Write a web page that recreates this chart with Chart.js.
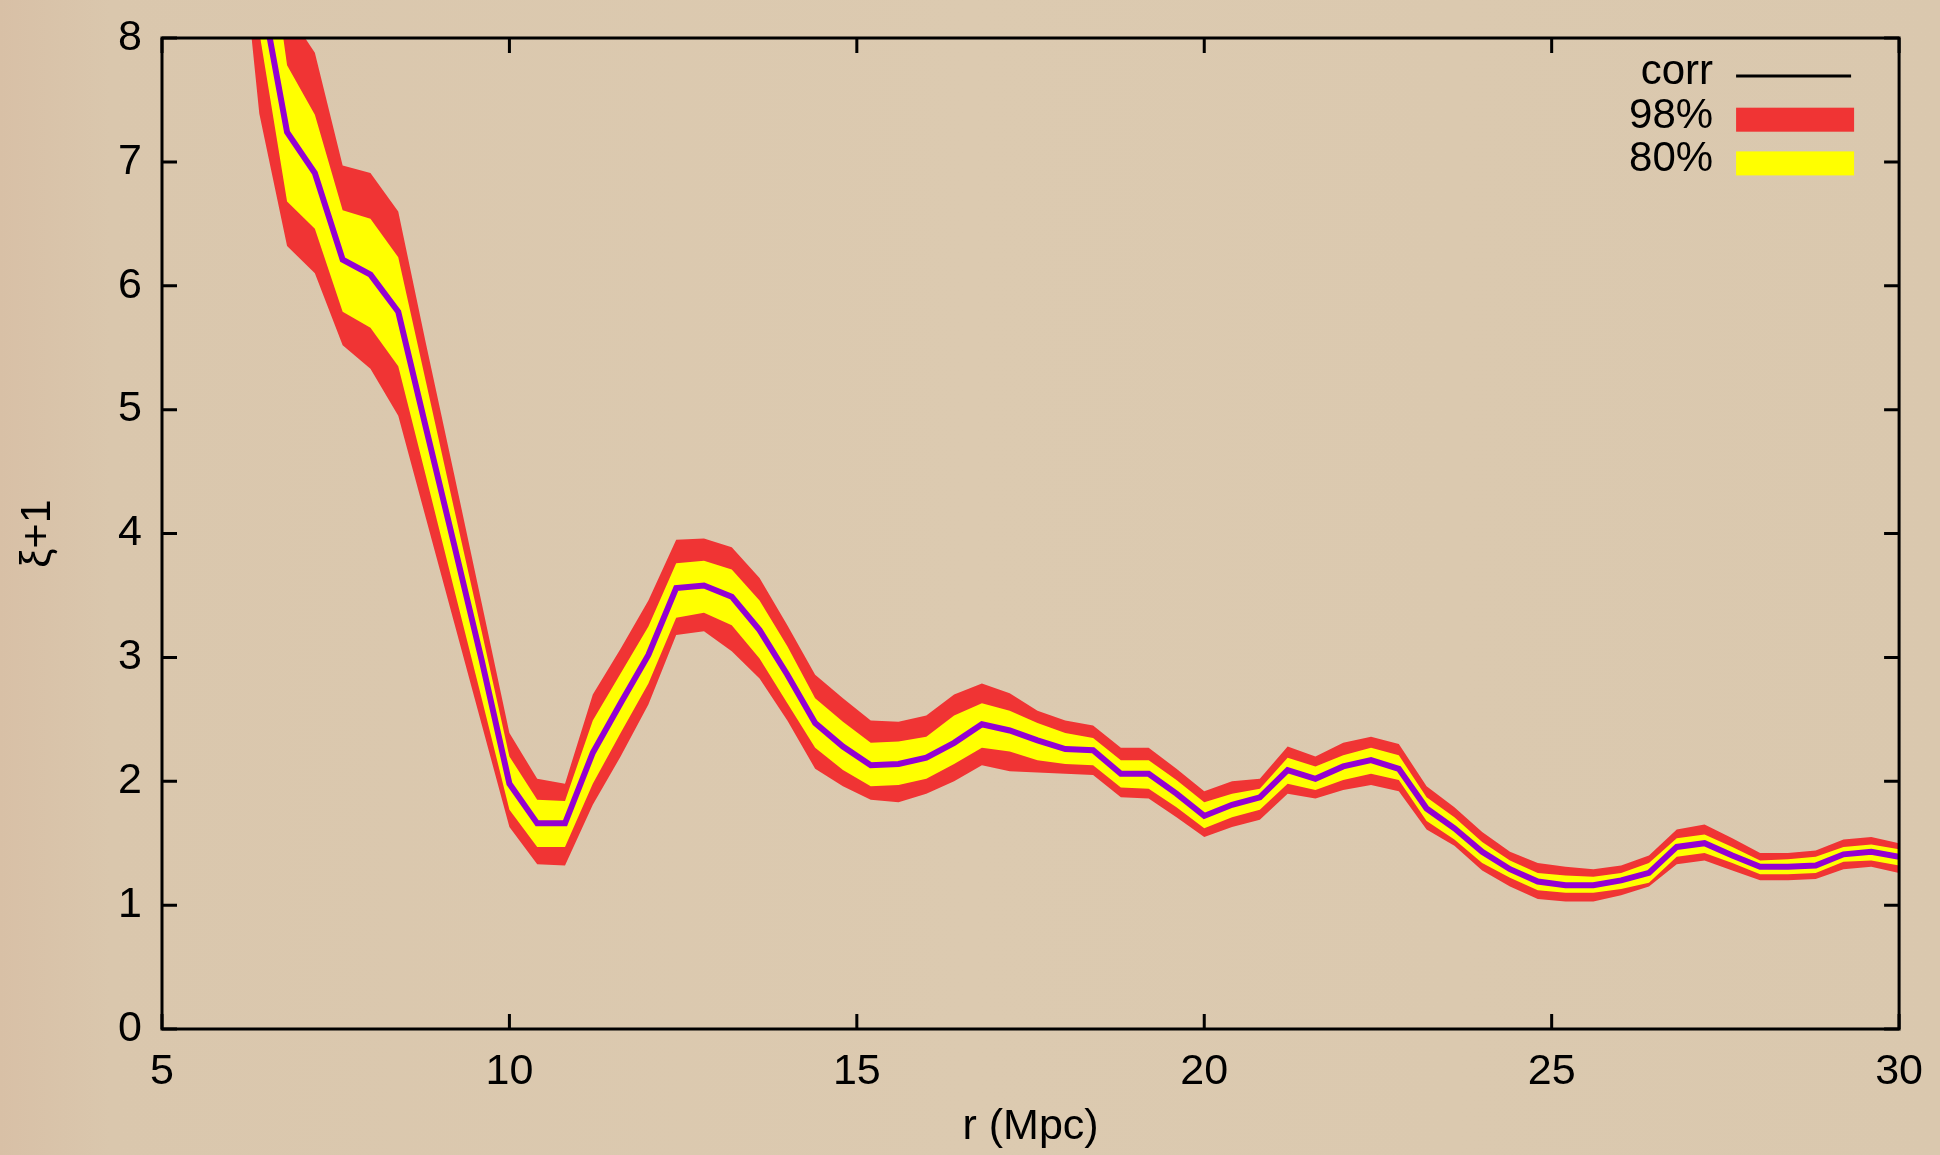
<!DOCTYPE html>
<html>
<head>
<meta charset="utf-8">
<title>xi+1</title>
<script src="https://cdn.jsdelivr.net/npm/chart.js"></script>
<style>
    html, body { margin: 0; padding: 0; }
    body {
        width: 1940px;
        height: 1155px;
        overflow: hidden;
        background: linear-gradient(to right, #d8c0a6 0px, #dac7ad 110px, #dccab0 50%, #dac8ae 100%);
    }
    #caixa { position: relative; width: 1940px; height: 1155px; }
</style>
</head>
<body>
<div id="caixa"><canvas id="grafico"></canvas></div>
<script>
// r (Mpc), passo de 0.4
var raio = [6.0, 6.4, 6.8, 7.2, 7.6, 8.0, 8.4, 8.8, 9.2, 9.6,
    10.0, 10.4, 10.8, 11.2, 11.6, 12.0, 12.4, 12.8, 13.2, 13.6,
    14.0, 14.4, 14.8, 15.2, 15.6, 16.0, 16.4, 16.8, 17.2, 17.6,
    18.0, 18.4, 18.8, 19.2, 19.6, 20.0, 20.4, 20.8, 21.2, 21.6,
    22.0, 22.4, 22.8, 23.2, 23.6, 24.0, 24.4, 24.8, 25.2, 25.6,
    26.0, 26.4, 26.8, 27.2, 27.6, 28.0, 28.4, 28.8, 29.2, 29.6, 30.0];

var corr = [11.0, 8.46, 7.24, 6.91, 6.21, 6.09, 5.79, 4.85, 3.92, 2.98,
    1.98, 1.66, 1.66, 2.23, 2.63, 3.02, 3.56, 3.58, 3.49, 3.22,
    2.86, 2.47, 2.28, 2.13, 2.14, 2.19, 2.31, 2.46, 2.41, 2.33,
    2.26, 2.25, 2.06, 2.06, 1.90, 1.72, 1.81, 1.87, 2.09, 2.02,
    2.12, 2.17, 2.10, 1.78, 1.62, 1.43, 1.29, 1.19, 1.16, 1.16,
    1.20, 1.26, 1.47, 1.50, 1.40, 1.31, 1.31, 1.32, 1.41, 1.43, 1.39];

var lo80 = [10.4, 8.05, 6.68, 6.46, 5.79, 5.66, 5.35, 4.46, 3.56, 2.67,
    1.77, 1.47, 1.47, 1.98, 2.39, 2.79, 3.32, 3.36, 3.26, 2.99,
    2.63, 2.27, 2.09, 1.96, 1.97, 2.02, 2.14, 2.27, 2.24, 2.17,
    2.14, 2.13, 1.95, 1.94, 1.79, 1.62, 1.71, 1.77, 1.98, 1.93,
    2.01, 2.06, 2.01, 1.68, 1.53, 1.34, 1.22, 1.12, 1.10, 1.10,
    1.13, 1.18, 1.39, 1.42, 1.34, 1.25, 1.25, 1.26, 1.35, 1.36, 1.32];

var hi80 = [11.8, 9.4, 7.78, 7.38, 6.61, 6.54, 6.23, 5.22, 4.21, 3.21,
    2.20, 1.85, 1.84, 2.49, 2.87, 3.25, 3.76, 3.78, 3.71, 3.46,
    3.09, 2.67, 2.48, 2.31, 2.32, 2.36, 2.53, 2.63, 2.57, 2.47,
    2.39, 2.35, 2.17, 2.17, 2.01, 1.83, 1.90, 1.94, 2.19, 2.12,
    2.21, 2.27, 2.21, 1.87, 1.71, 1.51, 1.36, 1.26, 1.24, 1.23,
    1.26, 1.34, 1.54, 1.57, 1.47, 1.36, 1.37, 1.39, 1.47, 1.49, 1.45];

var lo98 = [9.6, 7.39, 6.32, 6.10, 5.52, 5.33, 4.95, 4.12, 3.29, 2.46,
    1.63, 1.33, 1.32, 1.81, 2.20, 2.62, 3.18, 3.21, 3.05, 2.83,
    2.49, 2.10, 1.96, 1.85, 1.83, 1.90, 2.00, 2.13, 2.08, 2.07,
    2.06, 2.05, 1.87, 1.86, 1.71, 1.55, 1.63, 1.69, 1.90, 1.86,
    1.93, 1.97, 1.92, 1.61, 1.48, 1.28, 1.15, 1.05, 1.03, 1.03,
    1.08, 1.15, 1.33, 1.36, 1.28, 1.20, 1.20, 1.21, 1.29, 1.31, 1.26];

var hi98 = [12.4, 9.9, 8.22, 7.88, 6.97, 6.91, 6.60, 5.53, 4.49, 3.44,
    2.39, 2.02, 1.98, 2.70, 3.07, 3.46, 3.95, 3.96, 3.89, 3.64,
    3.26, 2.86, 2.67, 2.49, 2.48, 2.53, 2.70, 2.79, 2.71, 2.57,
    2.49, 2.45, 2.27, 2.27, 2.10, 1.92, 2.00, 2.02, 2.28, 2.20,
    2.31, 2.36, 2.30, 1.96, 1.79, 1.59, 1.43, 1.34, 1.31, 1.29,
    1.32, 1.40, 1.61, 1.65, 1.54, 1.42, 1.42, 1.44, 1.53, 1.55, 1.50];

var fonte = 'Liberation Sans, Arial, Helvetica, sans-serif';

function pontos(valores) {
    var lista = [];
    for (var i = 0; i < raio.length; i++) {
        lista.push({ x: raio[i], y: valores[i] });
    }
    return lista;
}

// moldura estilo gnuplot: borda, ticks para dentro e legenda
var moldura = {
    id: 'moldura',
    afterDraw: function (chart) {
        var ctx = chart.ctx;
        var a = chart.chartArea;
        var sx = chart.scales.x;
        var sy = chart.scales.y;
        ctx.save();
        ctx.strokeStyle = '#000';
        ctx.lineWidth = 3;
        ctx.beginPath();
        sx.ticks.forEach(function (t) {
            var px = sx.getPixelForValue(t.value);
            ctx.moveTo(px, a.bottom); ctx.lineTo(px, a.bottom - 15);
            ctx.moveTo(px, a.top); ctx.lineTo(px, a.top + 15);
        });
        sy.ticks.forEach(function (t) {
            var py = sy.getPixelForValue(t.value);
            ctx.moveTo(a.left, py); ctx.lineTo(a.left + 15, py);
            ctx.moveTo(a.right, py); ctx.lineTo(a.right - 15, py);
        });
        ctx.stroke();
        ctx.strokeRect(a.left, a.top, a.right - a.left, a.bottom - a.top);

        // legenda
        var itens = [
            { texto: chart.data.datasets[0].label, tipo: 'linha', cor: '#000' },
            { texto: chart.data.datasets[3].label, tipo: 'caixa', cor: chart.data.datasets[3].backgroundColor },
            { texto: chart.data.datasets[1].label, tipo: 'caixa', cor: chart.data.datasets[1].backgroundColor }
        ];
        var xTexto = a.right - 186;
        var xAmostra = a.right - 163;
        ctx.font = '42px ' + fonte;
        ctx.textAlign = 'right';
        ctx.textBaseline = 'alphabetic';
        for (var i = 0; i < itens.length; i++) {
            var yc = a.top + 38 + i * 43.7;
            ctx.fillStyle = '#000';
            ctx.fillText(itens[i].texto, xTexto, yc + 8);
            if (itens[i].tipo === 'linha') {
                ctx.beginPath();
                ctx.moveTo(xAmostra, yc);
                ctx.lineTo(xAmostra + 115, yc);
                ctx.stroke();
            } else {
                ctx.fillStyle = itens[i].cor;
                ctx.fillRect(xAmostra, yc - 12, 118, 24);
            }
        }
        ctx.restore();
    }
};

var ctx = document.getElementById('grafico').getContext('2d');
var grafico = new Chart(ctx, {
    type: 'line',
    data: {
        datasets: [
            { label: 'corr', data: pontos(corr), borderColor: '#9400d3', borderWidth: 6, fill: false },
            { label: '80%', data: pontos(hi80), borderWidth: 0, backgroundColor: '#ffff00', fill: '+1' },
            { label: '80% inf', data: pontos(lo80), borderWidth: 0, fill: false },
            { label: '98%', data: pontos(hi98), borderWidth: 0, backgroundColor: '#f03434', fill: '+1' },
            { label: '98% inf', data: pontos(lo98), borderWidth: 0, fill: false }
        ]
    },
    options: {
        responsive: true,
        maintainAspectRatio: false,
        animation: false,
        devicePixelRatio: 1,
        layout: { padding: { top: 38, right: 40, left: 0, bottom: 0 } },
        elements: { point: { radius: 0 }, line: { tension: 0 } },
        plugins: {
            legend: { display: false },
            tooltip: { enabled: false }
        },
        scales: {
            x: {
                type: 'linear',
                min: 5,
                max: 30,
                grid: { display: false, drawTicks: false },
                border: { display: false },
                ticks: { stepSize: 5, color: '#000', padding: 17, font: { family: fonte, size: 43 } },
                title: { display: true, text: 'r (Mpc)', color: '#000', padding: { top: 0, bottom: 2 }, font: { family: fonte, size: 43 } },
                afterFit: function (s) { s.height = 126; }
            },
            y: {
                min: 0,
                max: 8,
                grid: { display: false, drawTicks: false },
                border: { display: false },
                ticks: { stepSize: 1, color: '#000', padding: 20, font: { family: fonte, size: 43 } },
                title: { display: true, text: 'ξ+1', color: '#000', padding: { top: 12, bottom: 0 }, font: { family: fonte, size: 43 } },
                afterFit: function (s) {
                    s.width = 162;
                    s.paddingTop = 0;
                    s.paddingBottom = 0;
                }
            }
        }
    },
    plugins: [moldura]
});
</script>
</body>
</html>
